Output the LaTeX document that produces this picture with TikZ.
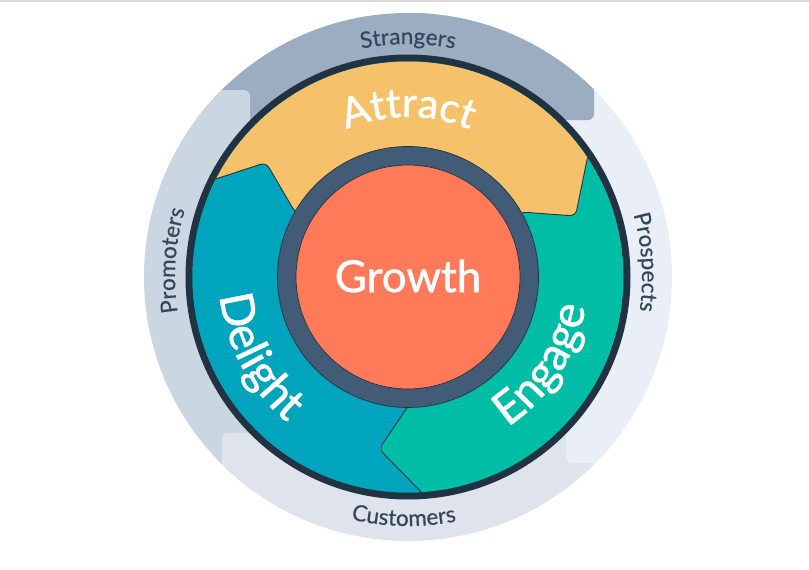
\documentclass[tikz,border=0pt]{standalone}
\usepackage{fontspec}
\setmainfont{Lato}
\newfontfamily\bigfont[FakeBold=1.2]{Lato}
\newfontfamily\smallfont[FakeBold=0.5]{Lato}
\usetikzlibrary{decorations.text}
\definecolor{cStrangers}{HTML}{9CADC2}
\definecolor{cPromoters}{HTML}{CAD6E2}
\definecolor{cCustomers}{HTML}{DFE3EC}
\definecolor{cProspects}{HTML}{E9EEF7}
\definecolor{cAttract}{HTML}{F5C26B}
\definecolor{cEngage}{HTML}{00BDA5}
\definecolor{cDelight}{HTML}{00A4BD}
\definecolor{cGrowth}{HTML}{FF7A59}
\definecolor{cRing}{HTML}{425B76}
\definecolor{cLabel}{HTML}{33475B}
\definecolor{cDark}{HTML}{213343}
\tikzset{
  band/.style={rounded corners=6pt},
  stage/.style={draw=cDark,line width=0.9pt,rounded corners=6pt,line join=round},
}
\newcommand{\arctext}[6]{% color, font cmd, text, radius, start, end
  \path[decorate,decoration={text along path,text align=center,text color=#1,
     text={|#2|#3}}] (408,-277) ++(#5:#4pt) arc[start angle=#5,end angle=#6,radius=#4pt];}
\begin{document}
\begin{tikzpicture}[x=1pt,y=1pt]
\useasboundingbox (0,0) rectangle (809,-570);
\fill[white] (0,0) rectangle (809,-570);
\fill[black!14] (0,0) rectangle (809,-1.5);
\coordinate (C) at (408,-277);
% outer bands
\begin{scope}
\clip (C) circle[radius=264pt];
\fill[cStrangers,band] (190,0) rectangle (594,-120);
\fill[cPromoters,band] (100,-90) rectangle (250,-500);
\fill[cCustomers,band] (222,-433) rectangle (720,-560);
\fill[cProspects,band] (566,-85) rectangle (720,-463);
\fill[cStrangers,band] (408,0) rectangle (594,-120);
\end{scope}
% stage disc
\fill[cDark] (C) circle[radius=222.5pt];
\begin{scope}
\clip (C) circle[radius=215.5pt];
\fill[cEngage] (C) circle[radius=216pt];
\filldraw[cAttract,stage] (C) -- (521,-212) -- (575.5,-216) -- (589,-150) -- (600,-40) -- (190,-40) -- (170,-190) -- (250,-200) -- cycle;
\filldraw[cDelight,stage] (430,-501) -- (379,-449) -- (415,-396) -- (C) -- (295,-212) -- (266,-162.5) -- (170,-194) -- (150,-300) -- (150,-560) -- (430,-560) -- cycle;
\end{scope}
% centre
\filldraw[fill=cRing,draw=cDark,line width=0.7pt] (C) circle[radius=130.5pt];
\filldraw[fill=cGrowth,draw=cDark,line width=0.7pt] (C) circle[radius=112pt];
\node[text=white,font=\bigfont\fontsize{44}{44}\selectfont,inner sep=0pt] (growth) at (408,-276) {Growth};
% curved labels
\arctext{white}{\bigfont\fontsize{41}{41}\selectfont}{Attract}{160}{130}{50}
\arctext{white}{\bigfont\fontsize{46}{46}\selectfont}{Delight}{189}{168}{248}
\arctext{white}{\bigfont\fontsize{46}{46}\selectfont}{Engage}{180}{-73}{7}
\arctext{cLabel}{\smallfont\fontsize{22.5}{22.5}\selectfont}{Strangers}{233}{130}{50}
\arctext{cLabel}{\smallfont\fontsize{22.5}{22.5}\selectfont}{Customers}{249}{229}{309}
\arctext{cLabel}{\smallfont\fontsize{22.5}{22.5}\selectfont}{Promoters}{233}{216}{136}
\arctext{cLabel}{\smallfont\fontsize{22.5}{22.5}\selectfont}{Prospects}{234}{43.6}{-36.4}
\end{tikzpicture}
\end{document}
